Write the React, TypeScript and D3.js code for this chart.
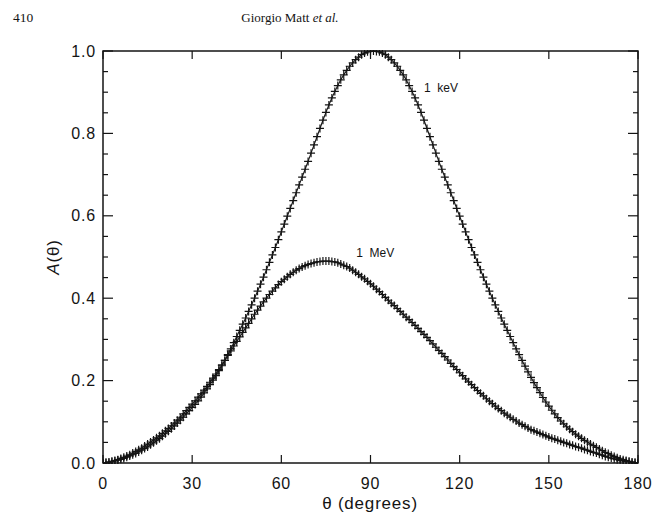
import React from 'react';
import * as d3 from 'd3';

// A(theta) sampled every degree, theta = index (0..180)
const KEV_1 = [
  0.000, 0.001, 0.002, 0.003, 0.005, 0.007, 0.009, 0.011, 0.014, 0.017,
  0.020, 0.023, 0.027, 0.031, 0.035, 0.039, 0.044, 0.049, 0.054, 0.059,
  0.065, 0.071, 0.077, 0.083, 0.090, 0.097, 0.104, 0.111, 0.119, 0.127,
  0.135, 0.142, 0.151, 0.160, 0.170, 0.180, 0.190, 0.201, 0.212, 0.224,
  0.236, 0.249, 0.263, 0.277, 0.292, 0.307, 0.322, 0.337, 0.352, 0.368,
  0.384, 0.400, 0.417, 0.434, 0.451, 0.469, 0.487, 0.505, 0.523, 0.542,
  0.561, 0.580, 0.599, 0.618, 0.637, 0.656, 0.675, 0.694, 0.713, 0.732,
  0.752, 0.772, 0.792, 0.812, 0.832, 0.851, 0.869, 0.886, 0.902, 0.916,
  0.930, 0.942, 0.953, 0.963, 0.971, 0.979, 0.985, 0.991, 0.995, 0.998,
  0.999, 1.000, 0.999, 0.998, 0.995, 0.991, 0.985, 0.979, 0.971, 0.963,
  0.953, 0.942, 0.930, 0.916, 0.902, 0.886, 0.869, 0.851, 0.832, 0.812,
  0.792, 0.772, 0.752, 0.732, 0.713, 0.694, 0.675, 0.656, 0.637, 0.618,
  0.599, 0.580, 0.561, 0.542, 0.523, 0.505, 0.487, 0.469, 0.451, 0.434,
  0.417, 0.400, 0.384, 0.368, 0.352, 0.337, 0.322, 0.307, 0.292, 0.277,
  0.263, 0.249, 0.235, 0.221, 0.208, 0.195, 0.183, 0.171, 0.159, 0.148,
  0.138, 0.128, 0.119, 0.110, 0.102, 0.095, 0.088, 0.082, 0.076, 0.070,
  0.065, 0.060, 0.055, 0.051, 0.046, 0.042, 0.038, 0.034, 0.030, 0.026,
  0.023, 0.019, 0.016, 0.013, 0.010, 0.008, 0.006, 0.004, 0.002, 0.001,
  0.000,
];

const MEV_1 = [
  0.000, 0.001, 0.002, 0.004, 0.006, 0.008, 0.011, 0.014, 0.017, 0.020,
  0.024, 0.028, 0.032, 0.036, 0.041, 0.046, 0.051, 0.056, 0.061, 0.066,
  0.072, 0.078, 0.084, 0.090, 0.097, 0.104, 0.111, 0.119, 0.127, 0.135,
  0.143, 0.151, 0.160, 0.168, 0.177, 0.186, 0.196, 0.206, 0.216, 0.227,
  0.238, 0.249, 0.261, 0.272, 0.284, 0.295, 0.306, 0.317, 0.328, 0.339,
  0.350, 0.361, 0.371, 0.381, 0.391, 0.400, 0.409, 0.417, 0.425, 0.433,
  0.440, 0.446, 0.452, 0.458, 0.463, 0.468, 0.472, 0.476, 0.479, 0.482,
  0.484, 0.486, 0.488, 0.489, 0.490, 0.490, 0.490, 0.489, 0.488, 0.486,
  0.483, 0.480, 0.477, 0.473, 0.468, 0.463, 0.458, 0.452, 0.447, 0.441,
  0.435, 0.429, 0.422, 0.416, 0.409, 0.402, 0.395, 0.388, 0.382, 0.375,
  0.368, 0.361, 0.354, 0.348, 0.341, 0.334, 0.327, 0.319, 0.312, 0.305,
  0.297, 0.289, 0.281, 0.273, 0.266, 0.258, 0.250, 0.242, 0.234, 0.227,
  0.219, 0.212, 0.204, 0.197, 0.190, 0.183, 0.176, 0.169, 0.163, 0.156,
  0.150, 0.144, 0.138, 0.132, 0.127, 0.121, 0.116, 0.111, 0.106, 0.102,
  0.097, 0.093, 0.089, 0.085, 0.081, 0.078, 0.075, 0.072, 0.069, 0.066,
  0.063, 0.060, 0.058, 0.055, 0.053, 0.050, 0.048, 0.045, 0.043, 0.040,
  0.038, 0.036, 0.033, 0.031, 0.028, 0.026, 0.024, 0.021, 0.019, 0.016,
  0.014, 0.012, 0.010, 0.008, 0.006, 0.005, 0.004, 0.003, 0.002, 0.001,
  0.000,
];

const X_TICKS = [0, 30, 60, 90, 120, 150, 180];
const Y_TICKS = [0.0, 0.2, 0.4, 0.6, 0.8, 1.0];
const Y_MINOR = [0.05, 0.1, 0.15, 0.25, 0.3, 0.35, 0.45, 0.5, 0.55, 0.65, 0.7, 0.75, 0.85, 0.9, 0.95];

const SERIES_LABELS = ['1 keV', '1 MeV'];
const LABEL_POS = [
  [108.0, 0.90],
  [85.2, 0.50],
];

const PAGE_NUMBER = '410';
const RUNNING_HEAD = 'Giorgio Matt ';
const RUNNING_HEAD_IT = 'et al.';

export default function App() {
  const W = 661;
  const H = 514;
  const left = 103, right = 638, top = 51, bottom = 463;
  const x = d3.scaleLinear().domain([0, 180]).range([left, right]);
  const y = d3.scaleLinear().domain([0, 1]).range([bottom, top]);
  const ink = '#141414';
  const sans = '"Liberation Sans", Arial, Helvetica, sans-serif';
  const serif = '"Liberation Serif", "Times New Roman", serif';

  const line = d3
    .line<number>()
    .x((_, i) => x(i))
    .y((d) => y(d));

  const plusPath = (vals: number[]) =>
    vals
      .map((v, i) => {
        const px = x(i);
        const py = y(v);
        return `M${px - 4},${py}h8M${px},${py - 4}v8`;
      })
      .join('');

  const series = [KEV_1, MEV_1];

  return (
    <svg
      width={W}
      height={H}
      viewBox={`0 0 ${W} ${H}`}
      style={{ position: 'absolute', left: 0, top: 0, background: '#fff' }}
    >
      <rect x={0} y={0} width={W} height={H} fill="#fff" />
      <text x={13} y={22} fontFamily={serif} fontSize={13.5} fill={ink}>
        {PAGE_NUMBER}
      </text>
      <text x={290} y={22} fontFamily={serif} fontSize={13} fill={ink} textAnchor="middle">
        {RUNNING_HEAD}
        <tspan fontStyle="italic">{RUNNING_HEAD_IT}</tspan>
      </text>

      <defs>
        <clipPath id="plotclip">
          <rect x={left} y={top - 1} width={right - left} height={bottom - top + 2} />
        </clipPath>
      </defs>

      <g clipPath="url(#plotclip)">
        {series.map((vals, k) => (
          <g key={k}>
            <path d={line(vals) || ''} fill="none" stroke={ink} strokeWidth={1.1} />
            <path d={plusPath(vals)} fill="none" stroke={ink} strokeWidth={1.2} />
          </g>
        ))}
      </g>

      {/* frame */}
      <rect
        x={left}
        y={top}
        width={right - left}
        height={bottom - top}
        fill="none"
        stroke={ink}
        strokeWidth={1.5}
      />

      {/* x ticks (bottom and top) */}
      {X_TICKS.map((t) => (
        <g key={'x' + t}>
          <line x1={x(t)} x2={x(t)} y1={bottom} y2={bottom - 8} stroke={ink} strokeWidth={1.2} />
          <line x1={x(t)} x2={x(t)} y1={top} y2={top + 8} stroke={ink} strokeWidth={1.2} />
          <text
            x={x(t)}
            y={489}
            fontFamily={sans}
            fontSize={16}
            letterSpacing={0.8}
            fill={ink}
            textAnchor="middle"
          >
            {t}
          </text>
        </g>
      ))}

      {/* y ticks */}
      {Y_TICKS.map((t) => (
        <g key={'y' + t}>
          <line x1={left} x2={left + 10} y1={y(t)} y2={y(t)} stroke={ink} strokeWidth={1.2} />
          <line x1={right} x2={right - 10} y1={y(t)} y2={y(t)} stroke={ink} strokeWidth={1.2} />
          <text
            x={96}
            y={y(t) + 5.5}
            fontFamily={sans}
            fontSize={16}
            letterSpacing={0.8}
            fill={ink}
            textAnchor="end"
          >
            {t.toFixed(1)}
          </text>
        </g>
      ))}
      {Y_MINOR.map((t) => (
        <g key={'ym' + t}>
          <line x1={left} x2={left + 5} y1={y(t)} y2={y(t)} stroke={ink} strokeWidth={1.2} />
          <line x1={right} x2={right - 5} y1={y(t)} y2={y(t)} stroke={ink} strokeWidth={1.2} />
        </g>
      ))}

      {/* series labels */}
      {SERIES_LABELS.map((s, i) => (
        <text
          key={s}
          x={x(LABEL_POS[i][0])}
          y={y(LABEL_POS[i][1])}
          fontFamily={sans}
          fontSize={12}
          fill={ink}
        >
          {s.replace(' ', '\u00a0 ')}
        </text>
      ))}

      {/* axis titles */}
      <text
        x={370}
        y={509}
        fontFamily={sans}
        fontSize={17}
        letterSpacing={0.8}
        fill={ink}
        textAnchor="middle"
      >
        θ (degrees)
      </text>
      <text
        transform={`translate(59,${(top + bottom) / 2}) rotate(-90)`}
        fontFamily={sans}
        fontSize={17}
        letterSpacing={0.8}
        fill={ink}
        textAnchor="middle"
      >
        <tspan fontStyle="italic">A</tspan>(θ)
      </text>
    </svg>
  );
}
